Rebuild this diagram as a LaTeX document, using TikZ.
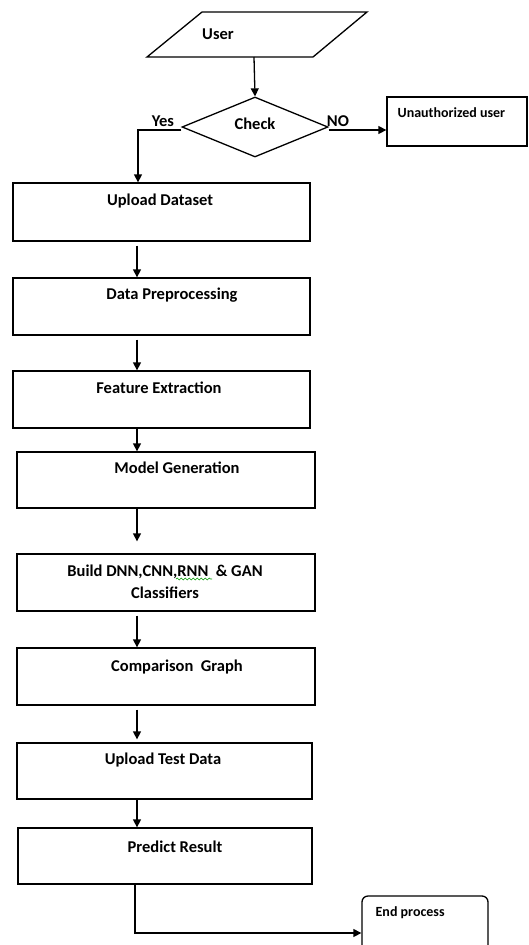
\documentclass[tikz,border=0pt]{standalone}
\usepackage{fontspec}
\setmainfont{Carlito}
\usetikzlibrary{shapes.geometric,arrows.meta,decorations.pathmorphing}
\begin{document}
\begin{tikzpicture}[x=1pt,y=-1pt, line width=1.3pt,
  >={Triangle[length=8pt,width=8pt]},
  box/.style={draw, rectangle, inner sep=0pt},
  lbl/.style={font=\bfseries\fontsize{16.5}{22}\selectfont, inner sep=0pt, align=center},
  slbl/.style={font=\bfseries\fontsize{14}{17}\selectfont, inner sep=0pt, anchor=west},
  arr/.style={->, shorten <=4pt}]
\useasboundingbox (0,0) rectangle (529,945);
\clip (0,0) rectangle (529,945);
% user parallelogram
\coordinate (u1) at (202,12);
\coordinate (u2) at (367,12);
\coordinate (u3) at (313,57);
\coordinate (u4) at (147,57);
\draw (u1) -- (u2) -- (u3) -- (u4) -- cycle;
\coordinate (userb) at (254,57);
\node[lbl] (usert) at (218,34) {User};
% decision
\node[draw, diamond, aspect=2.4, minimum width=146pt, minimum height=60pt, inner sep=0pt] (check) at (255,127) {};
\node[lbl] (checkt) at (255,124) {Check};
\node[lbl] (yes) at (163,121) {Yes};
\node[lbl] (no) at (338,121) {NO};
\node[box, minimum width=140pt, minimum height=49pt] (unauth) at (457,121.5) {};
\node[slbl] (unautht) at (397,113) {Unauthorized user};
% process boxes
\node[box, minimum width=297pt, minimum height=58pt] (upload) at (161.5,212) {};
\node[lbl] (uploadt) at (160,201) {Upload Dataset};
\node[box, minimum width=297pt, minimum height=57pt] (prep) at (161.5,306.5) {};
\node[lbl] (prept) at (172,295) {Data Preprocessing};
\node[box, minimum width=297pt, minimum height=57pt] (feat) at (161.5,399.5) {};
\node[lbl] (featt) at (159,388) {Feature Extraction};
\node[box, minimum width=298pt, minimum height=56pt] (model) at (166,480) {};
\node[lbl] (modelt) at (177,468) {Model Generation};
\node[box, minimum width=298pt, minimum height=57pt] (build) at (166,582.5) {};
\node[lbl] (buildt) at (165,582) {Build DNN,CNN,RNN\ \ \& GAN\\Classifiers};
\draw[green!60!black, line width=0.6pt, decorate, decoration={snake, amplitude=0.9pt, segment length=4pt}] (176,579) -- (212,579);
\node[box, minimum width=298pt, minimum height=57pt] (comp) at (166,676.5) {};
\node[lbl] (compt) at (177,667) {Comparison\ \ Graph};
\node[box, minimum width=295pt, minimum height=56pt] (test) at (164.5,771) {};
\node[lbl] (testt) at (163,760) {Upload Test Data};
\node[box, minimum width=294pt, minimum height=56pt] (pred) at (165,856) {};
\node[lbl] (predt) at (175,847) {Predict Result};
\node[draw, rectangle, rounded corners=6pt, minimum width=126pt, minimum height=74pt] (endp) at (425,933) {};
\node[slbl] (endt) at (375,913) {End process};
% connectors
\coordinate (ax) at (137,0);
\coordinate (bx) at (135,0);
\coordinate (yesx) at (138,0);
\coordinate (liney) at (0,130);
\coordinate (endy) at (0,933);
\draw[->] (userb) -- (check.north);
\draw[->] (check.west |- liney) -- (yesx |- liney) -- (upload.north -| yesx);
\draw[->] (check.east |- liney) -- (unauth.west |- liney);
\draw[arr] (upload.south -| ax) -- (prep.north -| ax);
\draw[arr] (prep.south -| ax) -- (feat.north -| ax);
\draw[->] (feat.south -| ax) -- (model.north -| ax);
\draw[->] (model.south -| ax) -- ([yshift=12pt]build.north -| ax);
\draw[arr] (build.south -| ax) -- (comp.north -| ax);
\draw[arr] (comp.south -| ax) -- ([yshift=3pt]test.north -| ax);
\draw[->] (test.south -| ax) -- (pred.north -| ax);
\draw[->] (pred.south -| bx) -- (bx |- endy) -- (endp.west |- endy);
\end{tikzpicture}
\end{document}
